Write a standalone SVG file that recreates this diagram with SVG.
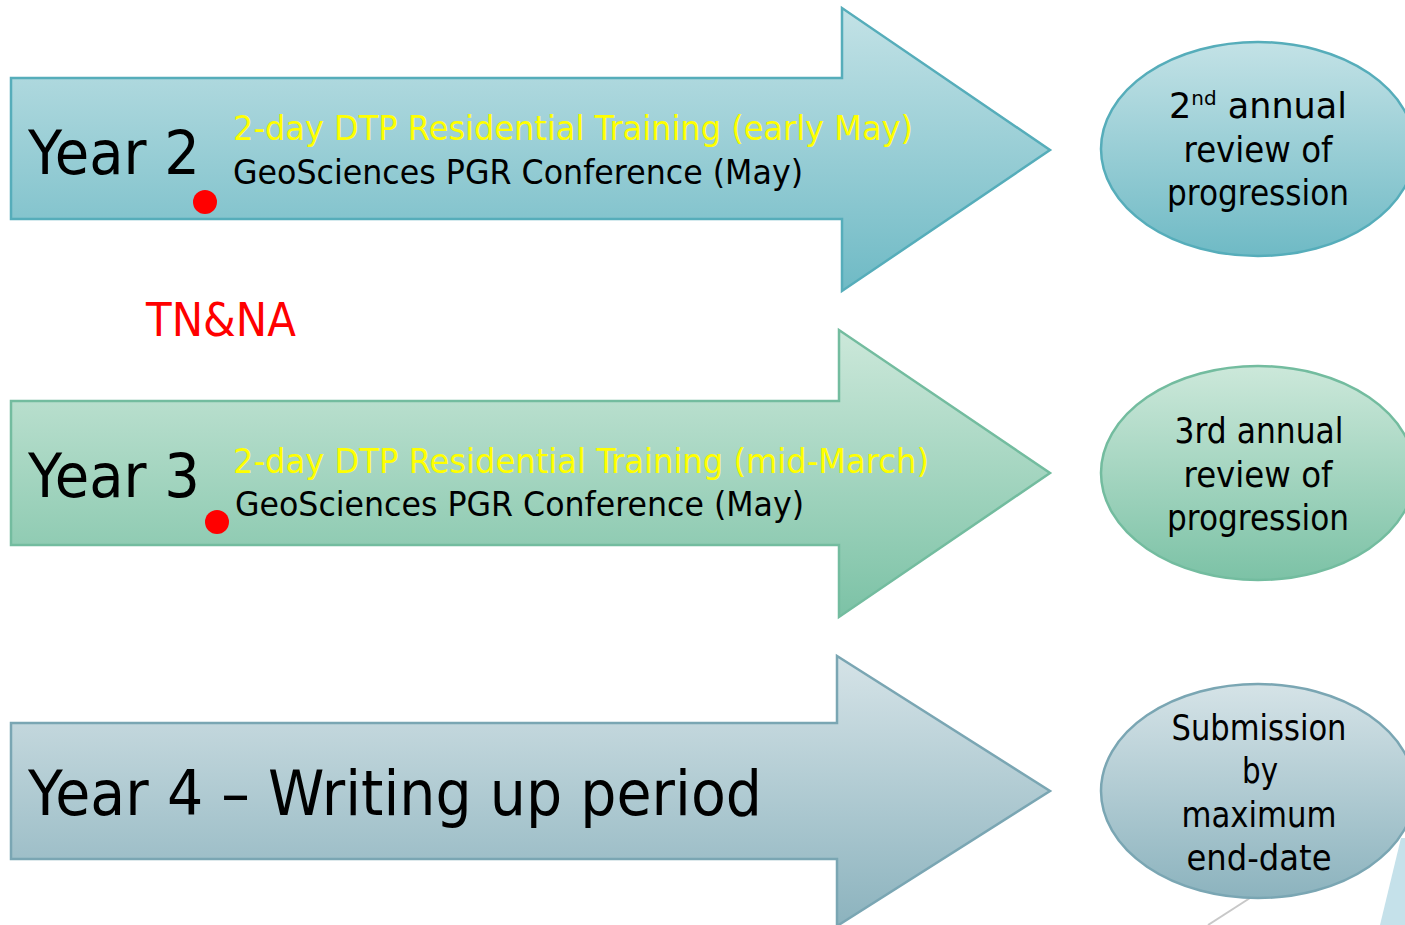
<svg xmlns="http://www.w3.org/2000/svg" width="1405" height="925" viewBox="0 0 1405 925">
<defs>
<linearGradient id="g1" x1="0" y1="0" x2="0" y2="1"><stop offset="0" stop-color="#c3e2e6"/><stop offset="1" stop-color="#6fbac5"/></linearGradient>
<linearGradient id="g2" x1="0" y1="0" x2="0" y2="1"><stop offset="0" stop-color="#cce8da"/><stop offset="1" stop-color="#7cc2a6"/></linearGradient>
<linearGradient id="g3" x1="0" y1="0" x2="0" y2="1"><stop offset="0" stop-color="#d5e3e7"/><stop offset="1" stop-color="#8cb3be"/></linearGradient>
<style>
text{font-family:"DejaVu Sans","Liberation Sans",sans-serif;}
.yr{font-size:60px;fill:#000;}
.yel{font-size:34px;fill:#ffff00;}
.blk{font-size:34px;fill:#000;}
.ell{font-size:35px;fill:#000;text-anchor:middle;}
</style>
</defs>
<rect width="1405" height="925" fill="#fff"/>
<g id="connectors">
<line x1="1250" y1="898" x2="1208" y2="925" stroke="#c8c8c8" stroke-width="2"/>
</g>
<g id="arrow-year2">
<polygon points="11,78 842,78 842,8 1050,150 842,291 842,219 11,219" fill="url(#g1)" stroke="#56adba" stroke-width="2.5"/>
<text class="yr" x="28" y="174" textLength="172" lengthAdjust="spacingAndGlyphs">Year 2</text>
<text class="yel" x="233" y="140" textLength="680" lengthAdjust="spacingAndGlyphs">2-day DTP Residential Training (early May)</text>
<text class="blk" x="233" y="184" textLength="570" lengthAdjust="spacingAndGlyphs">GeoSciences PGR Conference (May)</text>
<circle cx="205" cy="202" r="12" fill="#ff0000"/>
</g>
<g id="label-tnna">
<text x="146" y="336" font-size="46" fill="#ff0000" textLength="150" lengthAdjust="spacingAndGlyphs">TN&amp;NA</text>
</g>
<g id="arrow-year3">
<polygon points="11,401 839,401 839,330 1050,473 839,617 839,545 11,545" fill="url(#g2)" stroke="#73bc9f" stroke-width="2.5"/>
<text class="yr" x="28" y="497" textLength="172" lengthAdjust="spacingAndGlyphs">Year 3</text>
<text class="yel" x="233" y="473" textLength="696" lengthAdjust="spacingAndGlyphs">2-day DTP Residential Training (mid-March)</text>
<text class="blk" x="235" y="516" textLength="569" lengthAdjust="spacingAndGlyphs">GeoSciences PGR Conference (May)</text>
<circle cx="217" cy="522" r="12" fill="#ff0000"/>
</g>
<g id="arrow-year4">
<polygon points="11,723 837,723 837,656 1050,791 837,926 837,859 11,859" fill="url(#g3)" stroke="#7aa6b3" stroke-width="2.5"/>
<text x="28" y="815" font-size="62" fill="#000" textLength="734" lengthAdjust="spacingAndGlyphs">Year 4 – Writing up period</text>
</g>
<g id="ellipse-review2">
<ellipse cx="1258" cy="149" rx="157" ry="107" fill="url(#g1)" stroke="#56adba" stroke-width="2.5"/>
<text class="ell" x="1258" y="118" font-size="32">2<tspan font-size="20" dy="-13">nd</tspan><tspan dy="13"> annual</tspan></text>
<text class="ell" x="1258" y="162" textLength="149" lengthAdjust="spacingAndGlyphs">review of</text>
<text class="ell" x="1258" y="205" textLength="182" lengthAdjust="spacingAndGlyphs">progression</text>
</g>
<g id="ellipse-review3">
<ellipse cx="1258" cy="473" rx="157" ry="107" fill="url(#g2)" stroke="#73bc9f" stroke-width="2.5"/>
<text class="ell" x="1259" y="443" textLength="169" lengthAdjust="spacingAndGlyphs">3rd annual</text>
<text class="ell" x="1258" y="487" textLength="149" lengthAdjust="spacingAndGlyphs">review of</text>
<text class="ell" x="1258" y="530" textLength="182" lengthAdjust="spacingAndGlyphs">progression</text>
</g>
<g id="ellipse-submission">
<ellipse cx="1258" cy="791" rx="157" ry="107" fill="url(#g3)" stroke="#7aa6b3" stroke-width="2.5"/>
<text class="ell" x="1259" y="740" textLength="175" lengthAdjust="spacingAndGlyphs">Submission</text>
<text class="ell" x="1260" y="783" textLength="36" lengthAdjust="spacingAndGlyphs">by</text>
<text class="ell" x="1259" y="827" textLength="155" lengthAdjust="spacingAndGlyphs">maximum</text>
<text class="ell" x="1259" y="870" textLength="145" lengthAdjust="spacingAndGlyphs">end-date</text>
</g>
<g id="corner-shape">
<polygon points="1401,838 1405,838 1405,925 1380,925" fill="#c5e1ea"/>
</g>
</svg>
